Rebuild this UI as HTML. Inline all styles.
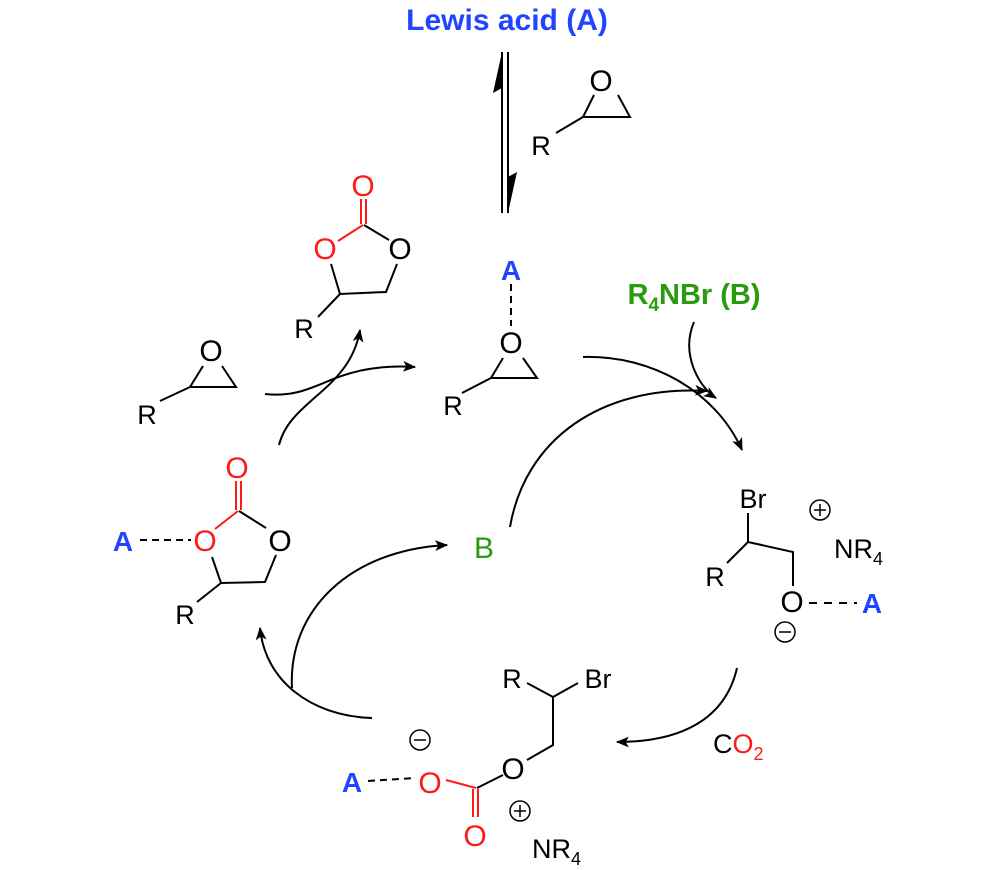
<!DOCTYPE html>
<html><head><meta charset="utf-8"><style>
html,body{margin:0;padding:0;background:#fff}
svg{display:block}
text{font-family:"Liberation Sans",Arial,sans-serif}
</style></head><body>
<svg width="1000" height="870" viewBox="0 0 1000 870" xmlns="http://www.w3.org/2000/svg">
<defs>
<marker id="ah" viewBox="0 0 12 10" refX="11" refY="5" markerWidth="13" markerHeight="11" markerUnits="userSpaceOnUse" orient="auto">
<path d="M0,0 L12,5 L0,10 L3,5 Z" fill="#000"/>
</marker>
</defs>
<g font-size="27" text-anchor="middle" fill="#000">
<text x="507" y="30" font-size="30" font-weight="bold" fill="#1f45ff">Lewis acid (A)</text>
<g stroke="#000" stroke-width="2">
<line x1="502" y1="52" x2="502" y2="213"/>
<line x1="508" y1="52" x2="508" y2="213"/>
</g>
<path d="M502,52 L493,93 L502,88 Z" fill="#000"/>
<path d="M508,213 L517,172 L508,177 Z" fill="#000"/>
<!-- top-right epoxide -->
<text x="601" y="91" font-size="30">O</text>
<g stroke="#000" stroke-width="2" fill="none">
<path d="M594,95 L583,117 L630,117 L618,95"/>
<line x1="556" y1="133" x2="583" y2="117"/>
</g>
<text x="541" y="155">R</text>
<!-- top-left carbonate -->
<g stroke="#ff1a1a" stroke-width="2" fill="none">
<line x1="361" y1="199" x2="361" y2="224"/>
<line x1="366" y1="199" x2="366" y2="224"/>
<line x1="363" y1="225" x2="338" y2="241"/>
</g>
<g stroke="#000" stroke-width="2" fill="none">
<line x1="364" y1="225" x2="389" y2="240"/>
<polyline points="331,264 340,294 386,292 397,264"/>
<line x1="318" y1="317" x2="340" y2="294"/>
</g>
<text x="363" y="196" font-size="30" fill="#ff1a1a">O</text>
<text x="325" y="259" font-size="30" fill="#ff1a1a">O</text>
<text x="400" y="259" font-size="30">O</text>
<text x="304" y="338">R</text>
<!-- middle epoxide with A -->
<text x="511" y="280" font-size="28" font-weight="bold" fill="#1f45ff">A</text>
<line x1="511" y1="284" x2="511" y2="326" stroke="#000" stroke-width="2" stroke-dasharray="7,5"/>
<text x="511" y="353" font-size="30">O</text>
<g stroke="#000" stroke-width="2" fill="none">
<path d="M503,358 L491,378 L537,378 L523,358"/>
<line x1="462" y1="393" x2="491" y2="378"/>
</g>
<text x="453" y="415">R</text>
<!-- left epoxide -->
<text x="211" y="361" font-size="30">O</text>
<g stroke="#000" stroke-width="2" fill="none">
<path d="M203,366 L190,387 L236,387 L222,366"/>
<line x1="160" y1="401" x2="190" y2="387"/>
</g>
<text x="147" y="424">R</text>
<!-- left carbonate with A -->
<g stroke="#ff1a1a" stroke-width="2" fill="none">
<line x1="236" y1="481" x2="236" y2="510"/>
<line x1="241" y1="481" x2="241" y2="510"/>
<line x1="238" y1="511" x2="215" y2="529"/>
</g>
<g stroke="#000" stroke-width="2" fill="none">
<line x1="239" y1="511" x2="266" y2="528"/>
<polyline points="212,557 221,583 265,582 276,555"/>
<line x1="197" y1="602" x2="221" y2="583"/>
</g>
<line x1="140" y1="540" x2="191" y2="540" stroke="#000" stroke-width="2" stroke-dasharray="7,5"/>
<text x="237" y="478" font-size="30" fill="#ff1a1a">O</text>
<text x="205" y="551" font-size="30" fill="#ff1a1a">O</text>
<text x="280" y="551" font-size="30">O</text>
<text x="185" y="624">R</text>
<text x="123" y="551" font-size="28" font-weight="bold" fill="#1f45ff">A</text>
<!-- B -->
<text x="484" y="558" font-size="30" fill="#2a9a10">B</text>
<text x="694" y="304" font-size="29" font-weight="bold" fill="#2a9a10">R<tspan font-size="19" dy="7">4</tspan><tspan dy="-7">NBr (B)</tspan></text>
<!-- right intermediate -->
<text x="753" y="508">Br</text>
<g stroke="#000" stroke-width="2" fill="none">
<line x1="748" y1="513" x2="748" y2="542"/>
<polyline points="727,563 748,542 793,552 793,586"/>
</g>
<line x1="809" y1="603" x2="857" y2="603" stroke="#000" stroke-width="2" stroke-dasharray="8,7"/>
<text x="715" y="586">R</text>
<text x="792" y="612" font-size="30">O</text>
<text x="872" y="613" font-size="28" font-weight="bold" fill="#1f45ff">A</text>
<text x="834" y="558" text-anchor="start">NR<tspan font-size="18" dy="7">4</tspan></text>
<g stroke="#000" stroke-width="1.5" fill="none">
<circle cx="820" cy="510" r="10"/><line x1="814" y1="510" x2="826" y2="510"/><line x1="820" y1="504" x2="820" y2="516"/>
<circle cx="785" cy="632" r="10"/><line x1="779" y1="632" x2="791" y2="632"/>
</g>
<!-- CO2 -->
<text x="713" y="753" text-anchor="start">C<tspan fill="#ff1a1a">O</tspan><tspan fill="#ff1a1a" font-size="18" dy="7">2</tspan></text>
<!-- bottom intermediate -->
<text x="512" y="688">R</text>
<text x="598" y="688">Br</text>
<g stroke="#000" stroke-width="2" fill="none">
<polyline points="527,683 553,697 578,683"/>
<polyline points="553,697 553,745 527,760"/>
<line x1="503" y1="775" x2="477" y2="788"/>
</g>
<g stroke="#ff1a1a" stroke-width="2" fill="none">
<line x1="476" y1="788" x2="446" y2="780"/>
<line x1="473" y1="789" x2="473" y2="817"/>
<line x1="478" y1="789" x2="478" y2="817"/>
</g>
<text x="513" y="779" font-size="30">O</text>
<text x="430" y="793" font-size="30" fill="#ff1a1a">O</text>
<text x="475" y="846" font-size="30" fill="#ff1a1a">O</text>
<line x1="368" y1="781" x2="415" y2="778" stroke="#000" stroke-width="2" stroke-dasharray="7,5"/>
<text x="352" y="792" font-size="28" font-weight="bold" fill="#1f45ff">A</text>
<text x="532" y="858" text-anchor="start">NR<tspan font-size="18" dy="7">4</tspan></text>
<g stroke="#000" stroke-width="1.5" fill="none">
<circle cx="420" cy="740" r="10"/><line x1="414" y1="740" x2="426" y2="740"/>
<circle cx="520" cy="811" r="10"/><line x1="514" y1="811" x2="526" y2="811"/><line x1="520" y1="805" x2="520" y2="817"/>
</g>
<!-- curved arrows -->
<g stroke="#000" stroke-width="2" fill="none" marker-end="url(#ah)">
<path d="M265,394 C320,400 330,362 415,367"/>
<path d="M279,445 C290,400 350,390 360,330"/>
<path d="M583,357 C650,355 715,390 742,450"/>
<path d="M510,527 C525,440 600,385 707,391"/>
<path d="M694,322 C680,355 700,388 716,398"/>
<path d="M737,668 C725,720 680,742 617,742"/>
<path d="M372,718 C310,716 265,680 260,628"/>
<path d="M292,688 C288,610 350,550 447,545"/>
</g>
</g>
</svg>
</body></html>
